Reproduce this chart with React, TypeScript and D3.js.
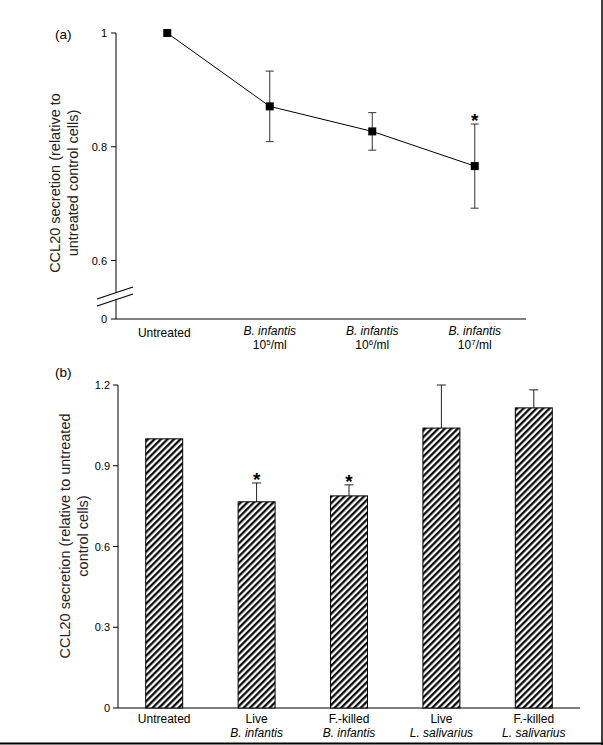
import React from 'react';
import * as d3 from 'd3';

// panel (a) - dose response
const doseCats = ['Untreated', 'B. infantis 10^5', 'B. infantis 10^6', 'B. infantis 10^7'];
const doseSpecies = ['', 'B. infantis', 'B. infantis', 'B. infantis'];
const doseExp = ['', '5', '6', '7'];
const doseMeans = [1.0, 0.871, 0.827, 0.766];
const doseErr = [0, 0.062, 0.033, 0.074];
const doseSig = [false, false, false, true];
const doseTicks = [0.6, 0.8, 1];

// panel (b) - bacteria comparison
const barCats = ['Untreated', 'Live B', 'Killed B', 'Live L', 'Killed L'];
const barLine1 = ['Untreated', 'Live', 'F.-killed', 'Live', 'F.-killed'];
const barLine2 = ['', 'B. infantis', 'B. infantis', 'L. salivarius', 'L. salivarius'];
const barMeans = [1.0, 0.766, 0.788, 1.04, 1.115];
const barErr = [0, 0.07, 0.041, 0.16, 0.067];
const barSig = [false, true, true, false, false];
const barTicks = [0, 0.3, 0.6, 0.9, 1.2];

const font = '"Liberation Sans", Arial, sans-serif';

const App = () => {
  // ---- panel a scales
  const xA = d3.scaleBand<string>().domain(doseCats).range([116, 526]).padding(0);
  const yA = d3.scaleLinear().domain([0.6, 1]).range([260.5, 33]);
  const baseA = 319;
  const cx = (i: number) => (xA(doseCats[i]) as number) + xA.bandwidth() / 2;
  const linePath = d3.line<number>()
    .x((d, i) => cx(i))
    .y(d => yA(d))(doseMeans) as string;

  // ---- panel b scales
  const xB = d3.scaleBand<string>().domain(barCats).range([118, 580]).paddingInner(0.6).paddingOuter(0.3);
  const yB = d3.scaleLinear().domain([0, 1.2]).range([708, 385]);

  return (
    <svg width={603} height={745} style={{ position: 'absolute', left: 0, top: 0, background: '#fff' }}
      fontFamily={font}>
      <defs>
        <pattern id="hatch" width={4.6} height={4.6} patternUnits="userSpaceOnUse" patternTransform="rotate(45)">
          <rect width={4.6} height={4.6} fill="#fff" />
          <line x1={1.2} y1={0} x2={1.2} y2={4.6} stroke="#000" strokeWidth={2.2} />
        </pattern>
      </defs>

      {/* ================= panel (a) ================= */}
      <text x={55} y={39} fontSize={13.5}>(a)</text>
      <text transform={`translate(60,183) rotate(-90)`} textAnchor="middle" fontSize={14.5} fill="#222">
        CCL20 secretion (relative to
      </text>
      <text transform={`translate(78,183) rotate(-90)`} textAnchor="middle" fontSize={14.5} fill="#222">
        untreated control cells)
      </text>

      {/* y axis with break */}
      <line x1={116} y1={yA(1)} x2={116} y2={293} stroke="#000" />
      <line x1={116} y1={300} x2={116} y2={baseA} stroke="#000" />
      <line x1={97} y1={299} x2={133} y2={287} stroke="#000" strokeWidth={1.2} />
      <line x1={97} y1={306} x2={133} y2={294} stroke="#000" strokeWidth={1.2} />
      {doseTicks.map(t => (
        <g key={t}>
          <line x1={111} x2={116} y1={yA(t)} y2={yA(t)} stroke="#000" />
          <text x={107} y={yA(t) + 4} textAnchor="end" fontSize={11}>{t}</text>
        </g>
      ))}
      <line x1={111} x2={116} y1={baseA} y2={baseA} stroke="#000" />
      <text x={107} y={baseA + 4} textAnchor="end" fontSize={11}>0</text>
      <line x1={116} x2={526} y1={baseA} y2={baseA} stroke="#000" />

      {/* category labels */}
      {doseCats.map((c, i) => (
        doseSpecies[i] ? (
          <g key={c} fontSize={12} textAnchor="middle">
            <text x={cx(i)} y={335} fontStyle="italic">{doseSpecies[i]}</text>
            <text x={cx(i)} y={349}>
              10<tspan fontSize={8} dy={-4}>{doseExp[i]}</tspan><tspan dy={4}>/ml</tspan>
            </text>
          </g>
        ) : (
          <text key={c} x={cx(i) - 3} y={337} fontSize={12} textAnchor="middle">{c}</text>
        )
      ))}

      {/* line, error bars, markers */}
      <path d={linePath} fill="none" stroke="#000" strokeWidth={1} />
      {doseMeans.map((m, i) => doseErr[i] > 0 && (
        <g key={i} stroke="#333">
          <line x1={cx(i)} x2={cx(i)} y1={yA(m + doseErr[i])} y2={yA(m - doseErr[i])} />
          <line x1={cx(i) - 4} x2={cx(i) + 4} y1={yA(m + doseErr[i])} y2={yA(m + doseErr[i])} />
          <line x1={cx(i) - 4} x2={cx(i) + 4} y1={yA(m - doseErr[i])} y2={yA(m - doseErr[i])} />
        </g>
      ))}
      {doseMeans.map((m, i) => (
        <rect key={i} x={cx(i) - 4} y={yA(m) - 4} width={8} height={8} fill="#000" />
      ))}
      {doseMeans.map((m, i) => doseSig[i] && (
        <text key={i} x={cx(i)} y={yA(m + doseErr[i]) + 3} textAnchor="middle" fontSize={19} fontWeight="bold">*</text>
      ))}

      {/* ================= panel (b) ================= */}
      <text x={55} y={377} fontSize={13.5}>(b)</text>
      <text transform={`translate(70,536) rotate(-90)`} textAnchor="middle" fontSize={14.5} fill="#222">
        CCL20 secretion (relative to untreated
      </text>
      <text transform={`translate(88,536) rotate(-90)`} textAnchor="middle" fontSize={14.5} fill="#222">
        control cells)
      </text>

      <line x1={118} x2={118} y1={yB(1.2)} y2={yB(0)} stroke="#000" />
      <line x1={118} x2={580} y1={yB(0)} y2={yB(0)} stroke="#000" />
      {barTicks.map(t => (
        <g key={t}>
          <line x1={113} x2={118} y1={yB(t)} y2={yB(t)} stroke="#000" />
          <text x={110} y={yB(t) + 4} textAnchor="end" fontSize={11}>{t}</text>
        </g>
      ))}

      {barCats.map((c, i) => {
        const x0 = xB(c) as number;
        const w = xB.bandwidth();
        const mid = x0 + w / 2;
        const top = yB(barMeans[i]);
        const eTop = yB(barMeans[i] + barErr[i]);
        return (
          <g key={c}>
            {barErr[i] > 0 && (
              <g stroke="#222">
                <line x1={mid} x2={mid} y1={top} y2={eTop} />
                <line x1={mid - 4.5} x2={mid + 4.5} y1={eTop} y2={eTop} />
              </g>
            )}
            <rect x={x0} y={top} width={w} height={yB(0) - top} fill="url(#hatch)" stroke="#000" strokeWidth={1} />
            {barSig[i] && (
              <text x={mid} y={eTop + 3} textAnchor="middle" fontSize={19} fontWeight="bold">*</text>
            )}
            <text x={mid} y={723} textAnchor="middle" fontSize={12}>{barLine1[i]}</text>
            {barLine2[i] && (
              <text x={mid} y={737} textAnchor="middle" fontSize={12} fontStyle="italic">{barLine2[i]}</text>
            )}
          </g>
        );
      })}

      {/* frame edges */}
      <line x1={602} x2={602} y1={0} y2={745} stroke="#000" strokeWidth={1.5} />
      <line x1={0} x2={603} y1={743.5} y2={743.5} stroke="#000" strokeWidth={2} />
    </svg>
  );
};

export default App;
